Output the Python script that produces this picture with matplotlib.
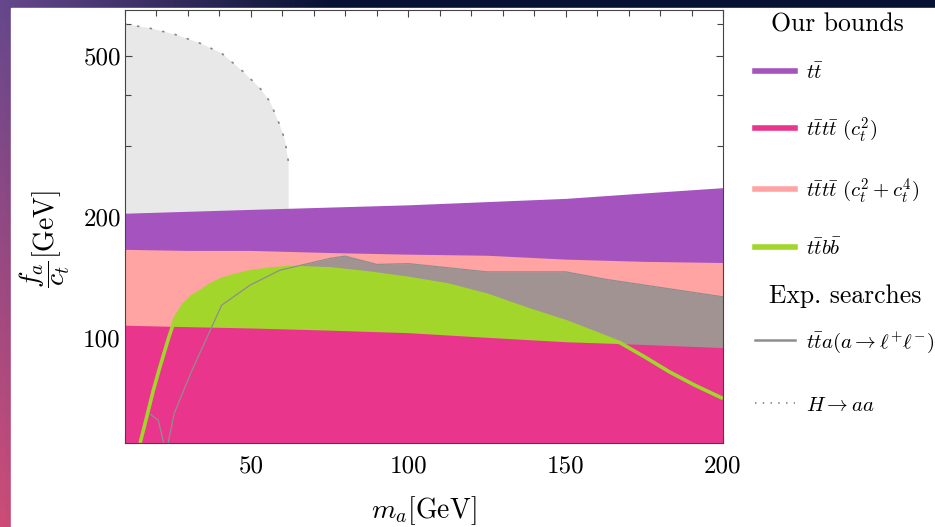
import numpy as np
import matplotlib
matplotlib.use("Agg")
import matplotlib.pyplot as plt
from matplotlib.lines import Line2D
from matplotlib.patches import Rectangle
from matplotlib.ticker import FixedLocator, FixedFormatter, NullFormatter

# ================= data =================
# H -> aa exclusion (light grey, dotted edge)
haa_x = [10, 17.9, 26.4, 33.8, 40.7, 47.6, 52.9, 56.1, 59.2, 60.8, 62.0]
haa_y = [600, 586, 564, 538, 508, 457, 416, 385, 337, 310, 271]

# t tbar  (purple)
tt_x = [10, 50, 100, 150, 175, 200]
tt_y = [204, 208.5, 214, 222, 229, 236]

# t tbar t tbar  (c_t^2 + c_t^4)  (salmon)
tttt24_x = [10, 30, 50, 75, 100, 125, 150, 175, 200]
tttt24_y = [166, 165, 165, 163, 161.5, 160.5, 157, 155, 154]

# t tbar a (a -> l+ l-)  (grey-brown region + thin line)
tta_x = [17.8, 20.6, 22.5, 23.5, 25.6, 30.9, 40.7, 49.7, 59.2, 75.1, 79.9, 90, 100, 125, 150, 163, 200]
tta_y = [65, 62.6, 54, 54, 65, 82, 120.7, 135.3, 147.4, 157.6, 159.7, 152.3, 153, 146, 146, 139.8, 126.6]

# t tbar b bbar  (green)
ttbb_x = [14.8, 16.9, 19, 21.1, 23.8, 25.9, 28.5, 31.2, 33.8, 37, 40.2, 44.4, 49.7, 55, 62.4,
          75, 87.5, 100, 112.5, 125, 138.7, 150.3, 158, 167.3, 175, 183, 191, 200]
ttbb_y = [55, 63.8, 74.3, 84.9, 99.8, 111.9, 120.7, 126.6, 130.2, 135.3, 139.3, 142.7, 146, 148, 149.7,
          148.5, 145, 140.6, 135.5, 127.8, 117.3, 109.7, 104, 97.4, 90, 82.5, 76.5, 70.9]

# t tbar t tbar (c_t^2)  (magenta)
tttt2_x = [10, 25, 50, 75, 100, 125, 150, 167, 200]
tttt2_y = [107.7, 107, 106, 104.7, 103.2, 100.5, 98, 97, 94.8]

XMIN, XMAX = 10, 200
YMIN, YMAX = 55, 652

C_TT = "#a553bf"
C_T2 = "#ea358c"
C_T24 = "#ffa3a3"
C_BB = "#a2d62a"
C_TTA = "#a29393"
C_TTA_LINE = "#8e8e8e"
C_HAA = "#e8e8e8"

plt.rcParams["font.family"] = "serif"
plt.rcParams["font.serif"] = ["cmr10"]
plt.rcParams["mathtext.fontset"] = "cm"
plt.rcParams["axes.unicode_minus"] = False

fig = plt.figure(figsize=(9.35, 5.27), dpi=100)

# --- slide background (dark strip top/left) ---
bg = fig.add_axes([0, 0, 1, 1], zorder=-10)
gy, gx = np.mgrid[0:1:60j, 0:1:200j]
left = np.stack([0.40 + 0.40 * gy, 0.28 + 0.02 * gy, 0.55 - 0.08 * gy], axis=-1)
navy = np.array([0.03, 0.07, 0.20])
w = np.clip(gx / 0.35, 0, 1)[..., None]
bg.imshow(left * (1 - w) + navy * w, aspect="auto", extent=[0, 1, 1, 0])
bg.add_patch(Rectangle((11 / 935, 0), 1, (527 - 8) / 527, color="white", transform=bg.transAxes))
bg.set_axis_off()

ax = fig.add_axes([125 / 935, (527 - 443) / 527, 598 / 935, (443 - 9.5) / 527])
ax.set_yscale("log")

# ================= regions =================
ax.fill_between(haa_x, YMIN / 2, haa_y, color=C_HAA, lw=0, zorder=1)
ax.fill_between(tt_x, YMIN / 2, tt_y, color=C_TT, lw=0, zorder=2)
ax.fill_between(tttt24_x, YMIN / 2, tttt24_y, color=C_T24, lw=0, zorder=3)
ax.fill_between(tta_x, YMIN / 2, tta_y, color=C_TTA, lw=0, zorder=4)
ax.fill_between(ttbb_x, YMIN / 2, ttbb_y, color=C_BB, lw=0, zorder=5)
ax.fill_between(tttt2_x, YMIN / 2, tttt2_y, color=C_T2, lw=0, zorder=6)

ax.plot(ttbb_x, ttbb_y, color=C_BB, lw=2.6, zorder=7, solid_capstyle="butt")
ax.plot(tta_x, tta_y, color=C_TTA_LINE, lw=0.9, zorder=8)
ax.plot(haa_x, haa_y, color="#8a8a8a", lw=1.3, ls=(0, (0.6, 6.5)), zorder=8, dash_capstyle="round")

ax.set_xlim(XMIN, XMAX)
ax.set_ylim(YMIN, YMAX)

# ticks
ax.xaxis.set_major_locator(FixedLocator([50, 100, 150, 200]))
ax.xaxis.set_minor_locator(FixedLocator(list(range(10, 201, 10))))
ax.yaxis.set_major_locator(FixedLocator([100, 200, 500]))
ax.yaxis.set_major_formatter(FixedFormatter(["100", "200", "500"]))
ax.yaxis.set_minor_locator(FixedLocator([60, 70, 80, 90, 300, 400, 600]))
ax.yaxis.set_minor_formatter(NullFormatter())
ax.tick_params(which="both", direction="in", top=True, right=True, color="#444444", width=0.8)
ax.tick_params(which="major", length=5)
ax.tick_params(which="minor", length=4)
ax.tick_params(axis="x", which="major", labelsize=18, pad=9)
ax.tick_params(axis="y", which="major", labelsize=18, pad=3)
for s in ax.spines.values():
    s.set_color("#444444")
    s.set_linewidth(0.8)
    s.set_zorder(10)

ax.set_xlabel(r"$m_a[\mathrm{GeV}]$", fontsize=20, labelpad=12)
ax.set_ylabel(r"$\dfrac{f_a}{c_t}[\mathrm{GeV}]$", fontsize=20, labelpad=5)
ax.yaxis.set_label_coords(-0.088, 0.47)

# ================= legends =================
h_ours = [
    Line2D([], [], color=C_TT, lw=4),
    Line2D([], [], color=C_T2, lw=4),
    Line2D([], [], color=C_T24, lw=4),
    Line2D([], [], color=C_BB, lw=4),
]
l_ours = [r"$t\bar{t}$", r"$t\bar{t}t\bar{t}\ (c_t^2)$",
          r"$t\bar{t}t\bar{t}\ (c_t^2+c_t^4)$", r"$t\bar{t}b\bar{b}$"]
leg1 = fig.legend(h_ours, l_ours, title="Our bounds", loc="upper left",
                  bbox_to_anchor=(755 / 935, 1 - 13 / 527), frameon=False,
                  fontsize=15, title_fontsize=18.5, handlelength=1.9,
                  handletextpad=0.55, labelspacing=1.55, borderpad=0, borderaxespad=0)
leg1._legend_box.sep = 18.5  # gap between title and first entry

h_exp = [
    Line2D([], [], color=C_TTA_LINE, lw=1.8),
    Line2D([], [], color="#8a8a8a", lw=1.3, ls=(0, (0.8, 3.5))),
]
l_exp = [r"$t\bar{t}a(a\rightarrow\ell^{+}\ell^{-})$", r"$H\rightarrow aa$"]
leg2 = fig.legend(h_exp, l_exp, title="Exp. searches", loc="upper left",
                  bbox_to_anchor=(755 / 935, 1 - 284 / 527), frameon=False,
                  fontsize=15, title_fontsize=18.5, handlelength=1.9,
                  handletextpad=0.55, labelspacing=1.98, borderpad=0, borderaxespad=0)
leg2._legend_box.sep = 15.7

fig.savefig("out.png", dpi=100)
plt.close(fig)
